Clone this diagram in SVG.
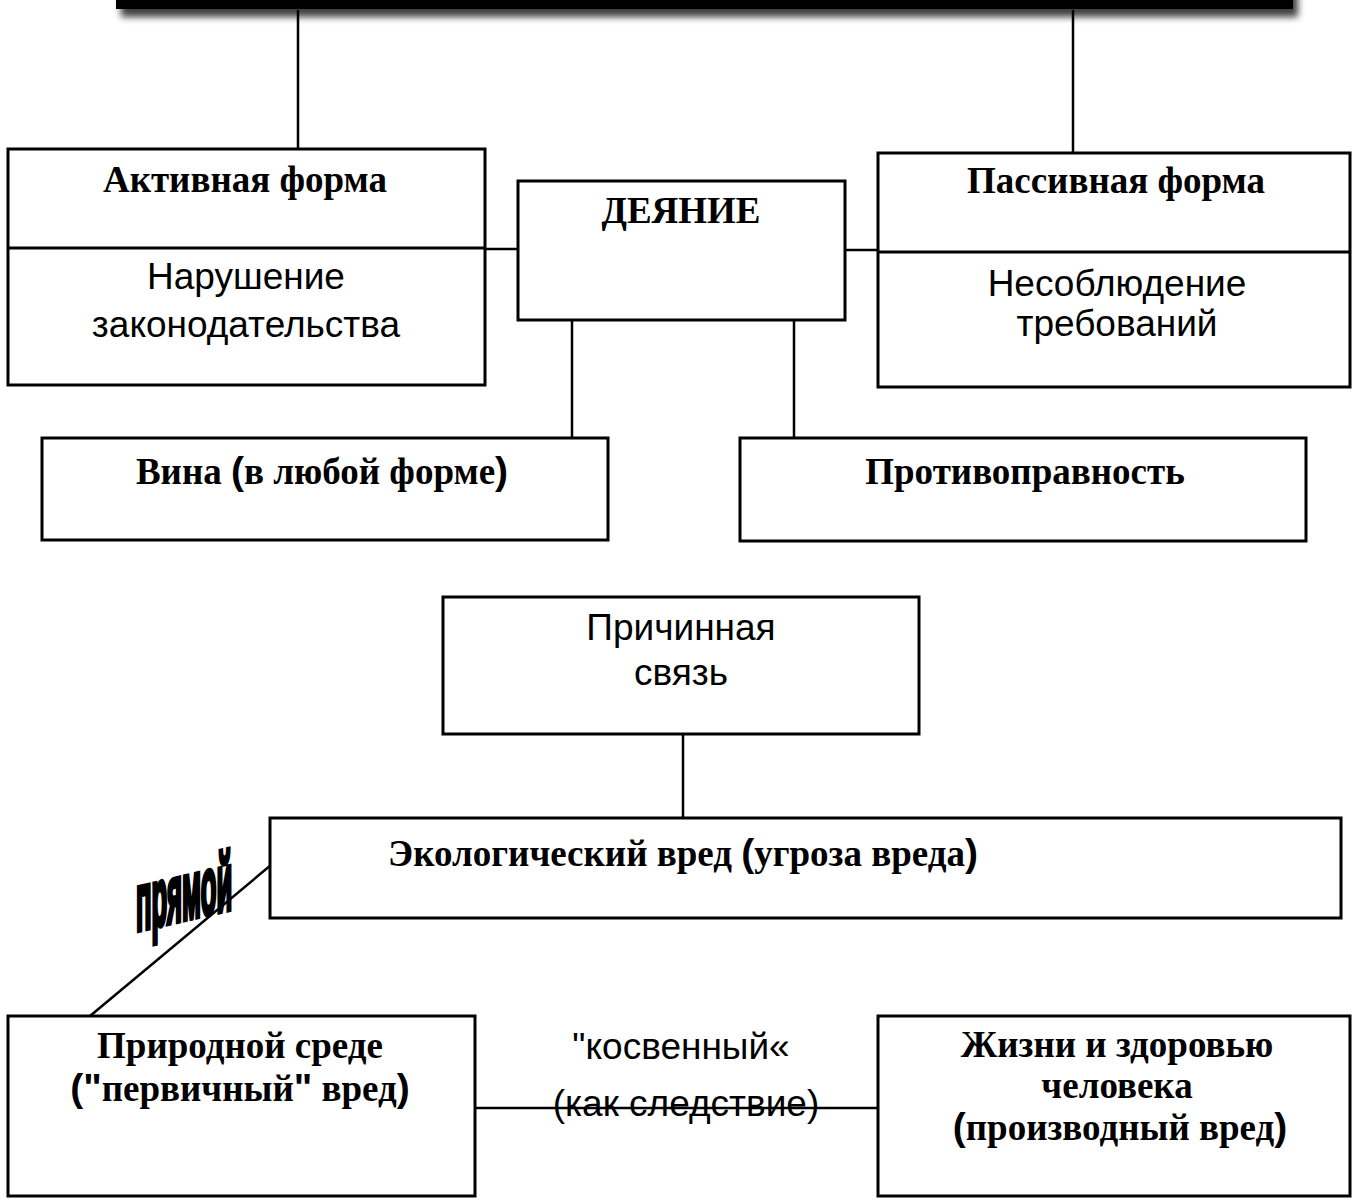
<svg xmlns="http://www.w3.org/2000/svg" width="1354" height="1203" viewBox="0 0 1354 1203">
<defs>
<filter id="sh" x="-5%" y="-100%" width="110%" height="300%"><feGaussianBlur stdDeviation="3.5"/></filter>
<style>
.box{fill:#fff;stroke:#000;stroke-width:3}
.ln{stroke:#000;stroke-width:2.5;fill:none}
.b{font-family:"Liberation Serif","Times New Roman",serif;font-weight:bold;font-size:37px;fill:#000;text-anchor:middle}
.r{font-family:"Liberation Sans",Arial,sans-serif;font-size:37px;fill:#000;text-anchor:middle}
.p{font-family:"Liberation Sans",Arial,sans-serif;font-weight:bold;font-size:39px}
</style>
</defs>
<rect width="1354" height="1203" fill="#fff"/>
<g id="banner">
<rect x="121" y="-20" width="1177" height="37" fill="#000" opacity="0.75" filter="url(#sh)"/>
<rect x="116" y="-20" width="1177" height="29" fill="#000"/>
</g>
<g id="connectors">
<line class="ln" x1="298" y1="10" x2="298" y2="149"/>
<line class="ln" x1="1073" y1="10" x2="1073" y2="153"/>
<line class="ln" x1="485" y1="249" x2="518" y2="249"/>
<line class="ln" x1="845" y1="250" x2="878" y2="250"/>
<line class="ln" x1="572" y1="320" x2="572" y2="438"/>
<line class="ln" x1="794" y1="320" x2="794" y2="438"/>
<line class="ln" x1="683" y1="734" x2="683" y2="818"/>
<line class="ln" x1="271" y1="865" x2="90" y2="1016"/>
<line class="ln" x1="476" y1="1108" x2="878" y2="1108"/>
</g>
<g id="active">
<rect class="box" x="8" y="149" width="477" height="236"/>
<line class="ln" x1="8" y1="248" x2="485" y2="248" style="stroke-width:3"/>
<text class="b" x="245" y="192">Активная форма</text>
<text class="r" x="246" y="289">Нарушение</text>
<text class="r" x="246" y="337">законодательства</text>
</g>
<g id="deyanie">
<rect class="box" x="518" y="181" width="327" height="139"/>
<text class="b" x="681" y="223">ДЕЯНИЕ</text>
</g>
<g id="passive">
<rect class="box" x="878" y="153" width="472" height="234"/>
<line class="ln" x1="878" y1="252" x2="1350" y2="252" style="stroke-width:3"/>
<text class="b" x="1116" y="193">Пассивная форма</text>
<text class="r" x="1117" y="296">Несоблюдение</text>
<text class="r" x="1117" y="336">требований</text>
</g>
<g id="vina">
<rect class="box" x="42" y="438" width="566" height="102"/>
<text class="b" x="322" y="484">Вина <tspan class="p">(</tspan>в любой форме<tspan class="p">)</tspan></text>
</g>
<g id="protivopravnost">
<rect class="box" x="740" y="438" width="566" height="103"/>
<text class="b" x="1025" y="484">Противоправность</text>
</g>
<g id="prichina">
<rect class="box" x="443" y="597" width="476" height="137"/>
<text class="r" x="681" y="640">Причинная</text>
<text class="r" x="681" y="685">связь</text>
</g>
<g id="vred">
<rect class="box" x="270" y="818" width="1071" height="100"/>
<text class="b" x="683" y="866">Экологический вред <tspan class="p">(</tspan>угроза вреда<tspan class="p">)</tspan></text>
</g>
<g id="pryamoy">
<text transform="translate(136,931) skewY(-13) scale(0.86,2.7)" font-family="Liberation Sans, Arial, sans-serif" font-weight="bold" font-size="30" fill="#000" stroke="#000" stroke-width="2">прямой</text>
</g>
<g id="priroda">
<rect class="box" x="8" y="1016" width="467" height="180"/>
<text class="b" x="240" y="1058">Природной среде</text>
<text class="b" x="240" y="1101"><tspan class="p">("</tspan>первичный<tspan class="p">"</tspan> вред<tspan class="p">)</tspan></text>
</g>
<g id="kosv">
<text class="r" x="681" y="1059">"косвенный«</text>
<text class="r" x="686" y="1116">(как следствие)</text>
</g>
<g id="zhizn">
<rect class="box" x="878" y="1016" width="472" height="180"/>
<text class="b" x="1117" y="1057">Жизни и здоровью</text>
<text class="b" x="1117" y="1098">человека</text>
<text class="b" x="1120" y="1140"><tspan class="p">(</tspan>производный вред<tspan class="p">)</tspan></text>
</g>
</svg>
